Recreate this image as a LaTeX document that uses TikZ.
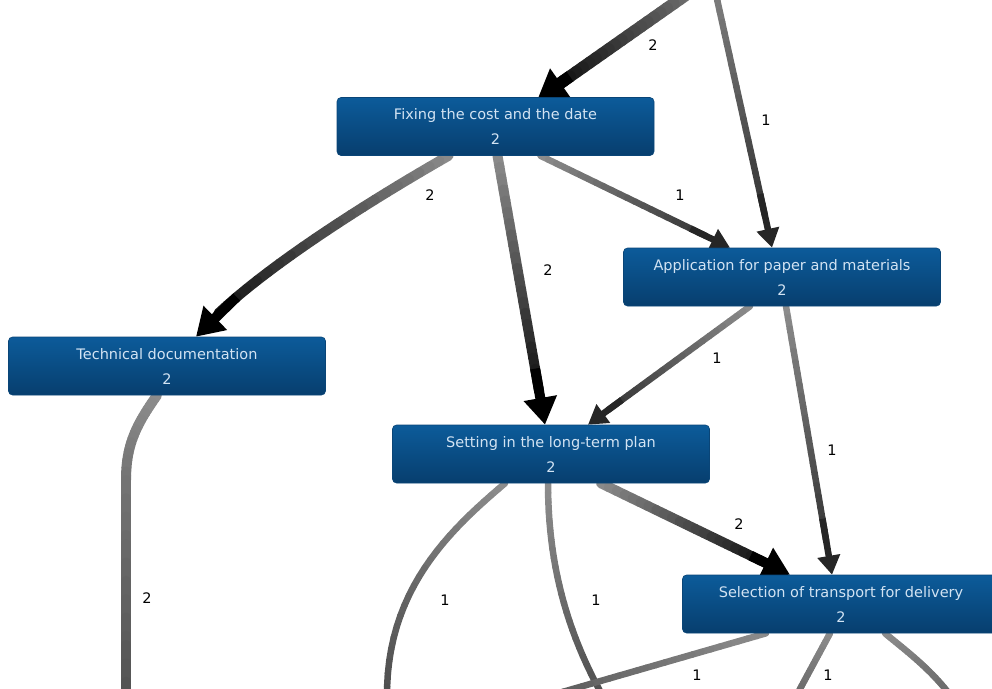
\documentclass[tikz,border=0pt]{standalone}
\usepackage{fontspec}
\setmainfont{DejaVu Sans}
\usetikzlibrary{arrows.meta}
\definecolor{boxtop}{HTML}{0C5B9A}
\definecolor{boxbot}{HTML}{073E6E}
\definecolor{boxline}{HTML}{0A4577}
\definecolor{boxtext}{HTML}{D2E3F3}
\pgfdeclarelayer{bg}
\pgfsetlayers{bg,main}
% gradient line without arrow: #1 path, #2 width, #3 start black %, #4 end black %
\newcommand\gradline[4]{%
  \foreach \k in {0,...,24}{\path #1 coordinate[pos=\k/24] (g\k);}
  \foreach \k in {1,...,24}{%
    \pgfmathtruncatemacro\pk{\k-1}%
    \pgfmathtruncatemacro\cc{#3+(#4-#3)*(\k-0.5)/24}%
    \draw[line width=#2, draw=black!\cc, line cap=round] (g\pk) -- (g\k);}
}
% gradient line with arrow: #5 arrow size options
\newcommand\gradarrow[5]{%
  \foreach \k in {0,...,24}{\path #1 coordinate[pos=\k/24] (g\k);}
  \foreach \k in {1,...,21}{%
    \pgfmathtruncatemacro\pk{\k-1}%
    \pgfmathtruncatemacro\cc{#3+(#4-#3)*(\k-0.5)/24}%
    \draw[line width=#2, draw=black!\cc, line cap=round] (g\pk) -- (g\k);}
  \draw[line width=#2, draw=black!#4, -{Triangle[#5]}] (g19) -- (g24);
}
\tikzset{
  proc/.style={rectangle, rounded corners=4pt, top color=boxtop, bottom color=boxbot,
    draw=boxline, line width=0.6pt, minimum width=317pt, minimum height=58pt,
    text=boxtext, font=\fontsize{14.5}{25}\selectfont, align=center, inner sep=0pt},
  cnt/.style={font=\fontsize{14.5}{16}\selectfont, text=black, inner sep=1pt},
}
\begin{document}
\begin{tikzpicture}[x=1pt, y=-1pt]
\useasboundingbox (0,0) rectangle (992,688);
\begin{scope}
\clip (0,0) rectangle (992,688);
\node[proc] (fix)  at (495.5,126.5) {Fixing the cost and the date\\2};
\node[proc] (app)  at (782,277)    {Application for paper and materials\\2};
\node[proc] (tech) at (167,366)    {Technical documentation\\2};
\node[proc] (set)  at (551,454)    {Setting in the long-term plan\\2};
\node[proc] (sel)  at (841,604)    {Selection of transport for delivery\\2};
\end{scope}

\coordinate (t1) at (693,-10);
\coordinate (t2) at (715,-10);
\coordinate (b8) at (126,480);
\coordinate (t8) at (126,700);
\coordinate (t9) at (387,700);
\coordinate (t10) at (605,700);
\coordinate (t12) at (545,697);
\coordinate (t13) at (794,700);
\coordinate (t14) at (955,702);

\begin{pgfonlayer}{bg}
\clip (0,0) rectangle (992,688);
% E1
\gradarrow{(t1) -- ([xshift=42pt,yshift=-2pt]fix.north)}{12pt}{55}{100}{width=34pt,length=28pt}
% E2
\gradarrow{(t2) -- ([xshift=-10pt]app.north)}{6.5pt}{50}{85}{width=22pt,length=19pt}
% E3
\gradarrow{([xshift=-47pt]fix.south) .. controls +(-70,40) and +(50,-60) .. ([xshift=29pt]tech.north)}{10pt}{45}{100}{width=32pt,length=27pt}
% E4
\gradarrow{([xshift=2pt]fix.south) -- ([xshift=-6pt]set.north)}{10pt}{45}{100}{width=32pt,length=27pt}
% E5
\gradarrow{([xshift=45pt]fix.south) -- ([xshift=-52pt]app.north)}{6.5pt}{45}{85}{width=22pt,length=19pt}
% E6
\gradarrow{([xshift=-32pt]app.south) -- ([xshift=37pt]set.north)}{6.5pt}{45}{85}{width=22pt,length=19pt}
% E7
\gradarrow{([xshift=4pt]app.south) -- ([xshift=-9pt]sel.north)}{6.5pt}{45}{85}{width=22pt,length=19pt}
% E8
\gradline{([xshift=-10pt]tech.south) .. controls (136,425) and (126,445) .. (b8)}{10pt}{45}{55}
\gradline{(b8) -- (t8)}{10pt}{55}{68}
% E9
\gradline{([xshift=-46pt]set.south) .. controls (450,530) and (385,590) .. (t9)}{6.5pt}{45}{70}
% E10
\gradline{([xshift=-3pt]set.south) .. controls (548,560) and (565,630) .. (t10)}{6.5pt}{45}{70}
% E11
\gradarrow{([xshift=50pt]set.south) -- ([xshift=-51pt]sel.north)}{10pt}{45}{100}{width=32pt,length=27pt}
% E12
\gradline{([xshift=-75pt]sel.south) -- (t12)}{6.5pt}{45}{65}
% E13
\gradline{([xshift=-11pt]sel.south) -- (t13)}{6.5pt}{45}{60}
% E14
\gradline{([xshift=44pt]sel.south) .. controls (905,650) and (935,672) .. (t14)}{6.5pt}{45}{60}
\end{pgfonlayer}

\node[cnt] (l1)  at (653,45)  {2};
\node[cnt] (l2)  at (766,120) {1};
\node[cnt] (l3)  at (430,195) {2};
\node[cnt] (l4)  at (680,195) {1};
\node[cnt] (l5)  at (548,270) {2};
\node[cnt] (l6)  at (717,358) {1};
\node[cnt] (l7)  at (832,450) {1};
\node[cnt] (l8)  at (739,524) {2};
\node[cnt] (l9)  at (147,598) {2};
\node[cnt] (l10) at (445,600) {1};
\node[cnt] (l11) at (596,600) {1};
\node[cnt] (l12) at (697,675) {1};
\node[cnt] (l13) at (828,675) {1};
\end{tikzpicture}
\end{document}
